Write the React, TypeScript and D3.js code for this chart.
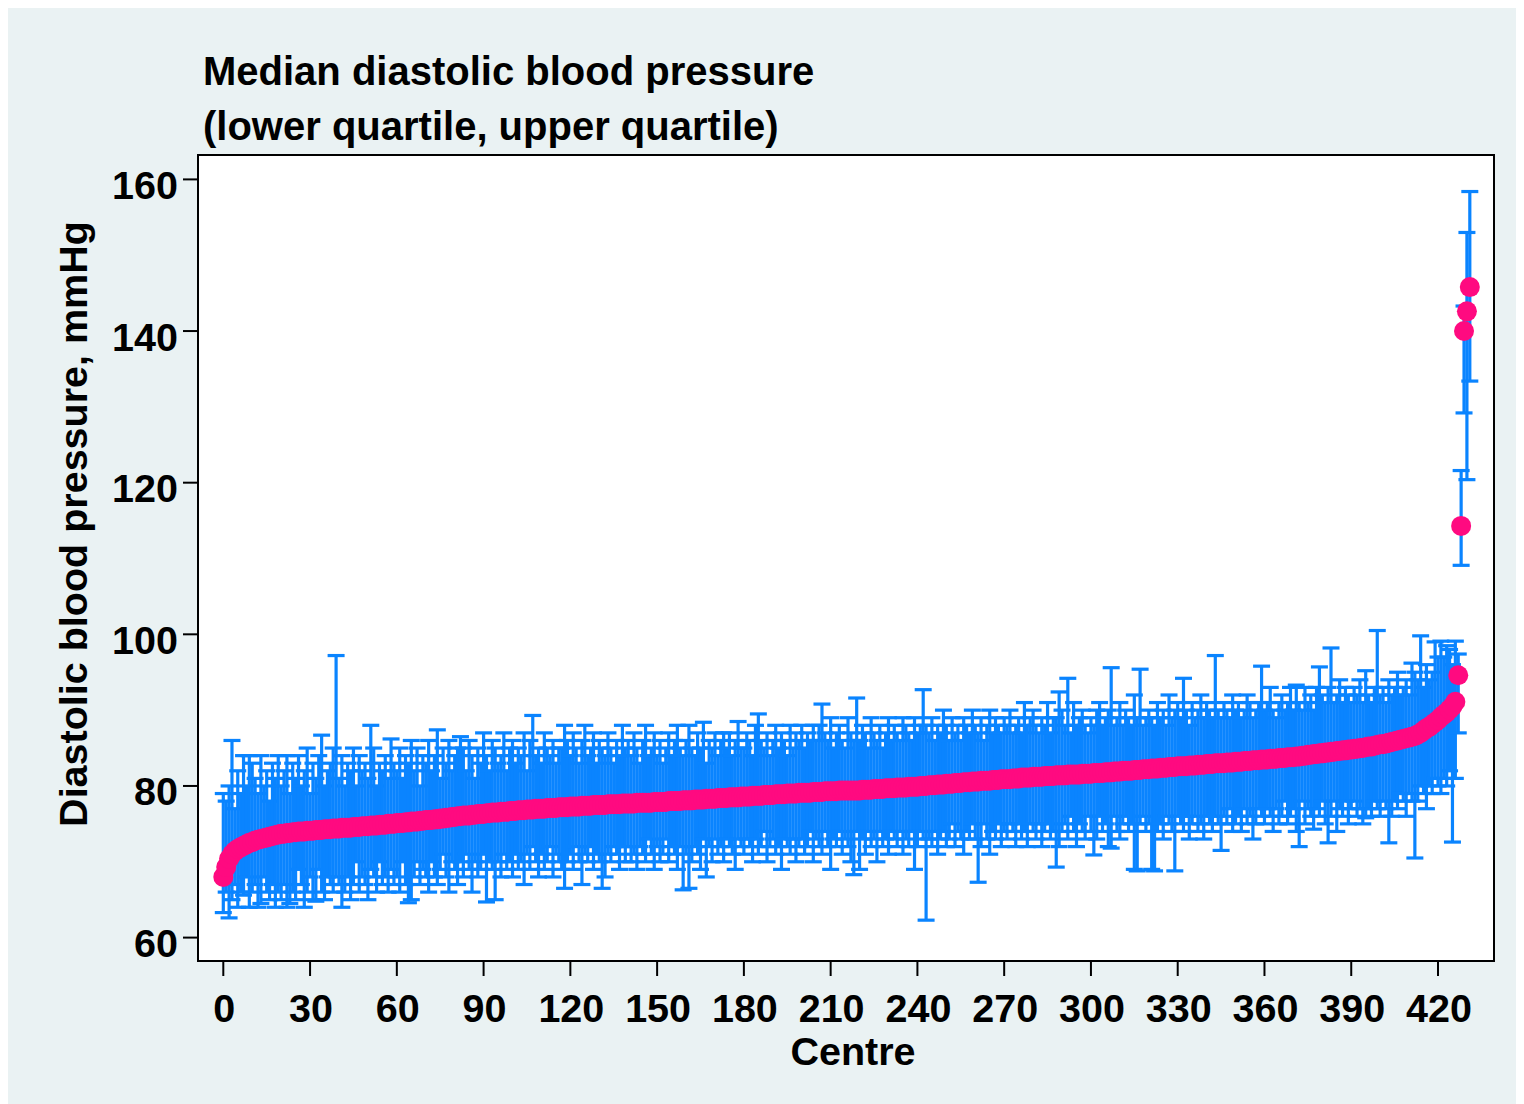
import React from "react";
import * as d3 from "d3";

// Median diastolic BP per centre (sorted), centres 0..431
const medianBP: number[] = [
  68.0, 69.3, 70.4, 71.0, 71.4, 71.7, 71.9, 72.1, 72.3, 72.5, 72.6, 72.8, 72.9, 73.0, 73.1, 73.2, 73.3, 73.4, 73.5, 73.6,
  73.7, 73.7, 73.8, 73.8, 73.9, 73.9, 74.0, 74.0, 74.0, 74.1, 74.1, 74.1, 74.2, 74.2, 74.2, 74.3, 74.3, 74.3, 74.4, 74.4,
  74.4, 74.5, 74.5, 74.5, 74.5, 74.6, 74.6, 74.6, 74.7, 74.7, 74.7, 74.8, 74.8, 74.8, 74.9, 74.9, 74.9, 75.0, 75.0, 75.0,
  75.1, 75.1, 75.1, 75.2, 75.2, 75.3, 75.3, 75.3, 75.4, 75.4, 75.5, 75.5, 75.5, 75.6, 75.6, 75.7, 75.7, 75.8, 75.8, 75.9,
  75.9, 76.0, 76.0, 76.1, 76.1, 76.1, 76.2, 76.2, 76.3, 76.3, 76.3, 76.4, 76.4, 76.5, 76.5, 76.5, 76.6, 76.6, 76.6, 76.7,
  76.7, 76.7, 76.8, 76.8, 76.8, 76.9, 76.9, 76.9, 77.0, 77.0, 77.0, 77.0, 77.1, 77.1, 77.1, 77.1, 77.2, 77.2, 77.2, 77.2,
  77.3, 77.3, 77.3, 77.3, 77.4, 77.4, 77.4, 77.4, 77.5, 77.5, 77.5, 77.5, 77.5, 77.6, 77.6, 77.6, 77.6, 77.6, 77.7, 77.7,
  77.7, 77.7, 77.7, 77.8, 77.8, 77.8, 77.8, 77.8, 77.8, 77.9, 77.9, 77.9, 77.9, 77.9, 78.0, 78.0, 78.0, 78.0, 78.0, 78.1,
  78.1, 78.1, 78.1, 78.2, 78.2, 78.2, 78.2, 78.3, 78.3, 78.3, 78.3, 78.4, 78.4, 78.4, 78.4, 78.5, 78.5, 78.5, 78.5, 78.6,
  78.6, 78.6, 78.6, 78.7, 78.7, 78.7, 78.7, 78.8, 78.8, 78.8, 78.8, 78.9, 78.9, 78.9, 78.9, 79.0, 79.0, 79.0, 79.0, 79.1,
  79.1, 79.1, 79.1, 79.1, 79.2, 79.2, 79.2, 79.2, 79.3, 79.3, 79.3, 79.3, 79.3, 79.4, 79.4, 79.4, 79.4, 79.4, 79.4, 79.4,
  79.4, 79.5, 79.5, 79.5, 79.5, 79.6, 79.6, 79.6, 79.6, 79.7, 79.7, 79.7, 79.7, 79.8, 79.8, 79.8, 79.8, 79.9, 79.9, 79.9,
  79.9, 80.0, 80.0, 80.0, 80.1, 80.1, 80.1, 80.2, 80.2, 80.2, 80.3, 80.3, 80.3, 80.4, 80.4, 80.4, 80.5, 80.5, 80.5, 80.6,
  80.6, 80.6, 80.7, 80.7, 80.7, 80.7, 80.8, 80.8, 80.8, 80.9, 80.9, 80.9, 80.9, 81.0, 81.0, 81.0, 81.1, 81.1, 81.1, 81.1,
  81.2, 81.2, 81.2, 81.2, 81.3, 81.3, 81.3, 81.3, 81.4, 81.4, 81.4, 81.4, 81.5, 81.5, 81.5, 81.5, 81.5, 81.6, 81.6, 81.6,
  81.6, 81.7, 81.7, 81.7, 81.7, 81.8, 81.8, 81.8, 81.9, 81.9, 81.9, 82.0, 82.0, 82.0, 82.0, 82.1, 82.1, 82.1, 82.2, 82.2,
  82.2, 82.3, 82.3, 82.3, 82.4, 82.4, 82.4, 82.5, 82.5, 82.5, 82.6, 82.6, 82.6, 82.6, 82.7, 82.7, 82.7, 82.8, 82.8, 82.8,
  82.9, 82.9, 82.9, 83.0, 83.0, 83.0, 83.0, 83.1, 83.1, 83.1, 83.2, 83.2, 83.2, 83.3, 83.3, 83.3, 83.4, 83.4, 83.4, 83.5,
  83.5, 83.5, 83.6, 83.6, 83.6, 83.7, 83.7, 83.7, 83.8, 83.8, 83.8, 83.9, 83.9, 84.0, 84.0, 84.1, 84.1, 84.2, 84.2, 84.3,
  84.3, 84.4, 84.4, 84.5, 84.5, 84.6, 84.6, 84.7, 84.7, 84.8, 84.8, 84.9, 84.9, 85.0, 85.0, 85.1, 85.2, 85.2, 85.3, 85.4,
  85.5, 85.5, 85.6, 85.7, 85.8, 85.9, 86.0, 86.1, 86.2, 86.3, 86.4, 86.5, 86.6, 86.8, 87.0, 87.3, 87.6, 87.8, 88.1, 88.4,
  88.7, 89.1, 89.4, 89.7, 90.1, 90.5, 91.1,
  94.6, 114.3, 140.0, 142.6, 145.8,
];

// Upper quartile per centre
const upperQ: number[] = [
  79, 78, 80, 86, 77, 82, 79, 84, 80, 84, 83, 81, 79, 84, 80, 82, 78, 83, 81, 84,
  80, 82, 84, 79, 83, 81, 84, 80, 82, 85, 79, 83, 81, 84, 86.7, 80, 82, 83, 85, 97.2,
  81, 84, 80, 83, 82, 85, 80, 84, 82, 83, 81, 88, 85, 80, 83, 82, 84, 81, 86.2, 83,
  82, 85, 81, 84, 83, 86, 82, 85, 80, 84, 83, 86, 82, 84, 87.4, 81, 85, 83, 86, 82,
  84, 85, 86.5, 85, 82, 86, 84, 81, 85, 83, 87, 84, 82, 86, 85, 83, 84, 87, 82, 85,
  86, 83, 85, 84, 87, 82, 86, 89.3, 84, 85, 83, 87, 85, 84, 86, 83, 85, 85, 88, 86,
  84, 87, 85, 83, 86, 88, 84, 85, 87, 83, 86, 85, 84, 87, 85, 83, 86, 84, 88, 85,
  86, 84, 87, 85, 83, 86, 88, 84, 85, 87, 84, 86, 83, 85, 87, 84, 86, 88, 85, 84,
  86, 88, 85, 84, 87, 85, 88.4, 83, 86, 85, 87, 84, 86, 87, 85, 87, 84, 86, 88.5, 85,
  85, 87, 86, 84, 88, 89.5, 86, 85, 87, 84, 86, 88, 85, 87, 86, 84, 88, 85, 87, 86,
  88, 85, 87, 86, 88, 86, 88, 90.8, 87, 86, 89, 85, 87, 88, 86, 85, 89, 87, 86, 91.6,
  86, 88, 87, 85, 89, 87, 86, 88, 85, 87, 89, 86, 88, 87, 86, 89, 88, 87, 86, 89,
  87, 88, 92.7, 88, 87, 89, 86, 88, 87, 90, 88, 86, 89, 87, 88, 86, 89, 88, 87, 90,
  88, 87, 89, 86, 88, 90, 87, 89, 88, 87, 89, 88, 90, 87, 88, 89, 87, 91, 88, 89,
  90, 88, 87, 89, 88, 91, 87, 89, 89, 92.4, 90, 88, 94.2, 87, 91, 88, 89, 90, 88, 87,
  89, 88, 90, 91, 88, 89, 90, 95.6, 88, 89, 91, 88, 90, 89, 88, 92, 89, 95.4, 88, 89,
  90, 89, 88, 91, 89, 90, 88, 92, 89, 90, 91, 89, 94.2, 90, 88, 91, 89, 90, 92, 89,
  91, 90, 89, 97.2, 90, 89, 91, 90, 89, 92, 90, 91, 89, 90, 92, 91, 89, 90, 91, 95.8,
  90, 91, 93, 90, 89, 91, 92, 90, 91, 93, 90, 93.3, 91, 90, 93, 91, 92, 90, 93, 95.7,
  92, 91, 93, 98.2, 91, 92, 94, 91, 93, 92, 91, 93, 92, 94, 91, 95.2, 92, 91, 93, 100.5,
  92, 93, 91, 94, 92, 93, 95, 92, 93, 94, 92, 96.2, 95, 94, 99.8, 93, 96, 94, 95, 99,
  97, 99.1, 97, 98.5, 98, 96, 99.1,
  97.4, 121.6, 143.3, 153.0, 158.4,
];

// Lower quartile per centre
const lowerQ: number[] = [
  63.3, 66, 62.6, 65, 67, 64, 66, 65.6, 68, 64, 66, 67, 64, 64.5, 68, 66, 65, 67, 64, 66,
  65, 67, 64, 64.5, 66, 65, 69, 67, 64, 66, 68, 65, 64.8, 69, 66, 65, 68, 67, 66, 68,
  67, 64, 66, 68, 65, 67, 70, 66, 68, 67, 65, 69, 68, 66, 70, 67, 68, 66, 69, 67,
  68, 66, 70, 67, 64.6, 65, 68, 70, 67, 69, 68, 66, 70, 68, 67, 69, 71, 68, 66, 70,
  69, 67, 70, 68, 71, 69, 66, 70, 68, 69, 71, 64.7, 70, 69, 65, 70, 68, 71, 69, 70,
  68, 71, 69, 70, 67, 71, 69, 72, 70, 68, 71, 69, 70, 72, 68, 71, 70, 69, 66.5, 70,
  71, 69, 72, 70, 67, 71, 70, 72, 69, 71, 70, 66.5, 68, 71, 70, 72, 71, 69, 72, 70,
  72, 70, 71, 69, 72, 71, 70, 73, 71, 69, 72, 70, 71, 73, 70, 72, 71, 69, 72, 66.3,
  71, 66.5, 70, 72, 71, 69, 73, 68, 72, 70, 73, 71, 72, 70, 73, 72, 71, 69, 73, 72,
  71, 73, 72, 70, 73, 71, 72, 74, 70, 72, 73, 71, 72, 69, 73, 72, 71, 73, 70, 72,
  73, 71, 72, 74, 70, 73, 72, 71, 74, 72, 69, 73, 72, 74, 71, 73, 72, 70, 68.3, 74,
  69, 73, 71, 74, 72, 73, 70, 74, 72, 73, 71, 74, 73, 72, 74, 71, 73, 72, 74, 69,
  72, 74, 73, 62.3, 73, 72, 74, 71, 73, 74, 72, 73, 75, 72, 74, 73, 71, 74, 73, 75,
  73, 67.3, 72, 75, 73, 71, 74, 73, 75, 72, 74, 73, 75, 74, 72, 75, 73, 74, 72, 75,
  74, 73, 75, 72, 74, 75, 73, 74, 69.3, 72, 74, 75, 73, 76, 74, 72, 75, 74, 73, 76,
  74, 70.9, 73, 76, 74, 75, 72, 71.8, 76, 74, 73, 75, 76, 74, 75, 69, 68.8, 75, 76, 74,
  75, 69, 68.8, 74, 75, 73, 76, 75, 74, 68.8, 76, 75, 74, 76, 73, 75, 76, 74, 75, 73,
  76, 75, 74, 76, 75, 71.5, 76, 75, 77, 74, 75, 76, 74, 77, 75, 76, 73, 75, 77, 76,
  75, 77, 76, 74, 77, 75, 76, 78, 75, 76, 77, 74, 72, 78, 75, 77, 76, 74.3, 77, 76,
  78, 75, 72.5, 76, 78, 74, 77, 76, 78, 75, 77, 78, 76, 77, 75, 75.8, 77, 76, 78, 77,
  76, 78, 77, 72.5, 76, 78, 77, 79, 78, 76, 79, 78, 70.5, 78, 80, 79, 77, 80, 79, 81,
  80, 79, 81, 80, 82, 72.6, 81,
  87, 109.1, 129.2, 120.4, 133.4,
];

const xTicks: number[] = [0, 30, 60, 90, 120, 150, 180, 210, 240, 270, 300, 330, 360, 390, 420];
const yTicks: number[] = [60, 80, 100, 120, 140, 160];

const titleLines: string[] = ["Median diastolic blood pressure", "(lower quartile, upper quartile)"];
const yTitle = "Diastolic blood pressure, mmHg";
const xTitle = "Centre";

const FONT = "'Liberation Sans', Arial, Helvetica, sans-serif";
const BLUE = "#0a84ff";
const PINK = "#ff0a80";
const BG = "#eaf2f3";

export default function App() {
  const W = 1516;
  const H = 1098;
  const frame = { left: 198, top: 155, right: 1494, bottom: 961 };
  const x = d3.scaleLinear().domain([0, 420]).range([223.3, 1438]);
  const y = d3.scaleLinear().domain([60, 160]).range([937.6, 179.4]);

  const n = Math.min(medianBP.length, upperQ.length, lowerQ.length);
  const idx = d3.range(n);
  const capHalf = 8.5;
  const fs = 39.5;

  return (
    <svg
      width={W}
      height={H}
      style={{ display: "block", marginTop: -2 }}
      fontFamily={FONT}
    >
      <g transform="translate(-8,-6)">
        <rect x={8} y={6} width={W} height={H} fill={BG} />
        <rect
          x={frame.left}
          y={frame.top}
          width={frame.right - frame.left}
          height={frame.bottom - frame.top}
          fill="#ffffff"
        />
        {/* error bars */}
        <g stroke={BLUE} strokeWidth={3.2} fill="none">
          {idx.map((i) => {
            const cx = x(i);
            const y1 = y(lowerQ[i]);
            const y2 = y(upperQ[i]);
            return (
              <g key={i}>
                <line x1={cx} x2={cx} y1={y1} y2={y2} />
                <line x1={cx - capHalf} x2={cx + capHalf} y1={y1} y2={y1} />
                <line x1={cx - capHalf} x2={cx + capHalf} y1={y2} y2={y2} />
              </g>
            );
          })}
        </g>
        {/* medians */}
        <g fill={PINK}>
          {idx.map((i) => (
            <circle key={i} cx={x(i)} cy={y(medianBP[i])} r={10} />
          ))}
        </g>
        {/* frame */}
        <rect
          x={frame.left}
          y={frame.top}
          width={frame.right - frame.left}
          height={frame.bottom - frame.top}
          fill="none"
          stroke="#000"
          strokeWidth={2}
        />
        {/* y axis */}
        <g>
          {yTicks.map((t) => (
            <g key={t}>
              <line x1={frame.left - 15} x2={frame.left} y1={y(t)} y2={y(t)} stroke="#000" strokeWidth={2} />
              <text
                x={178}
                y={y(t) + 19.5}
                textAnchor="end"
                fontSize={fs}
                fontWeight="bold"
                fill="#000"
              >
                {t}
              </text>
            </g>
          ))}
        </g>
        {/* x axis */}
        <g>
          {xTicks.map((t) => (
            <g key={t}>
              <line x1={x(t)} x2={x(t)} y1={frame.bottom} y2={frame.bottom + 15} stroke="#000" strokeWidth={2} />
              <text x={x(t) + 1} y={1022} textAnchor="middle" fontSize={fs} fontWeight="bold" fill="#000">
                {t}
              </text>
            </g>
          ))}
        </g>
        <text x={853} y={1065} textAnchor="middle" fontSize={fs} fontWeight="bold" fill="#000">
          {xTitle}
        </text>
        <text
          transform={`translate(87,524) rotate(-90)`}
          textAnchor="middle"
          fontSize={fs}
          fontWeight="bold"
          fill="#000"
        >
          {yTitle}
        </text>
        {titleLines.map((t, k) => (
          <text key={k} x={203} y={85 + k * 54.5} fontSize={40} fontWeight="bold" fill="#000">
            {t}
          </text>
        ))}
      </g>
    </svg>
  );
}
